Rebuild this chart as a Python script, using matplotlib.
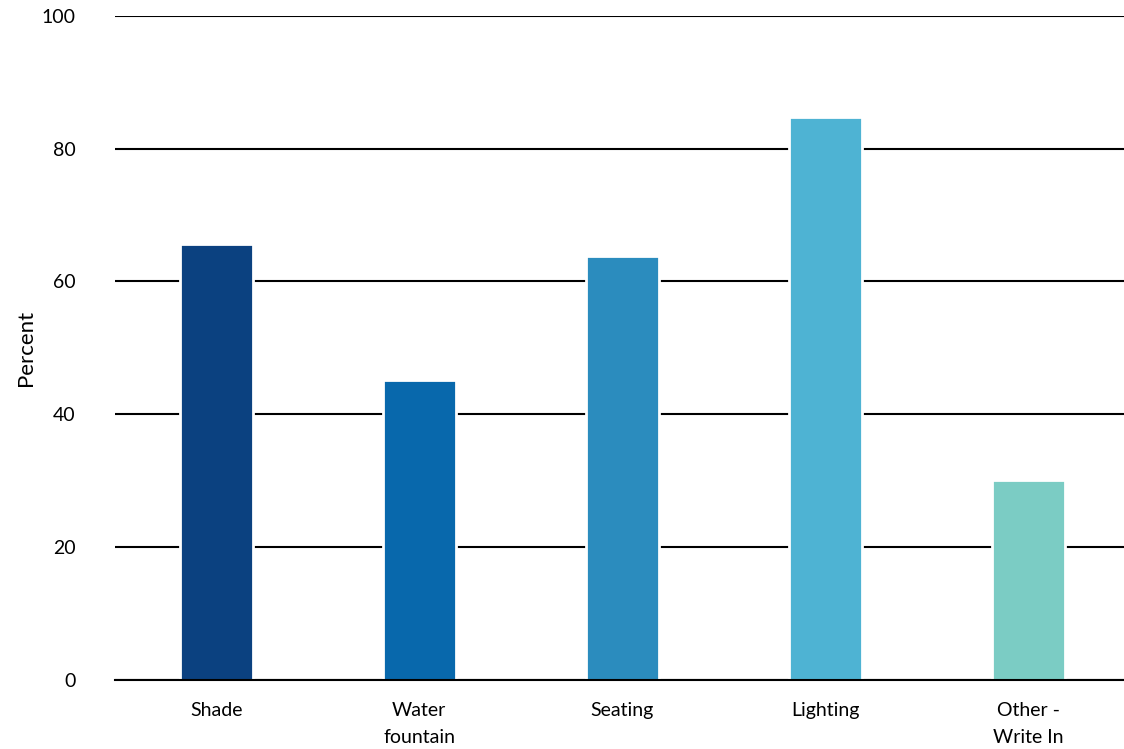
import numpy as np
import matplotlib as mpl
mpl.use('Agg')
import matplotlib.pyplot as plt

# Data
categories = ['Shade', 'Water\nfountain', 'Seating', 'Lighting', 'Other -\nWrite In']
values = [65.7, 45.1, 63.9, 84.8, 30.1]
colors = ['#0b4180', '#0868ac', '#2b8cbe', '#4eb3d3', '#7bccc4']
yticks = [0, 20, 40, 60, 80, 100]

plt.rcParams['font.family'] = ['Lato', 'DejaVu Sans']

fig = plt.figure(figsize=(11.24, 7.49), dpi=100)
ax = fig.add_axes([0.102, 0.092, 0.903, 0.887])

x = np.arange(len(categories))
ax.bar(x, values, width=0.36, color=colors, edgecolor='white', linewidth=2, zorder=3)

ax.set_ylim(0, 100)
ax.set_xlim(-0.5, 4.5)
ax.set_yticks(yticks)
ax.set_xticks(x)
ax.set_xticklabels(categories, fontsize=14, linespacing=1.7)
ax.tick_params(axis='y', labelsize=14, length=0, pad=28)
ax.tick_params(axis='x', length=0, pad=16)
ax.yaxis.grid(True, color='black', linewidth=1.5, zorder=1)
ax.set_axisbelow(True)
for s in ['top', 'right', 'left']:
    ax.spines[s].set_visible(False)
ax.spines['bottom'].set_linewidth(1.5)
ax.spines['bottom'].set_zorder(4)
ax.set_ylabel('Percent', fontsize=16, labelpad=4)

fig.savefig('out.png', dpi=100)
